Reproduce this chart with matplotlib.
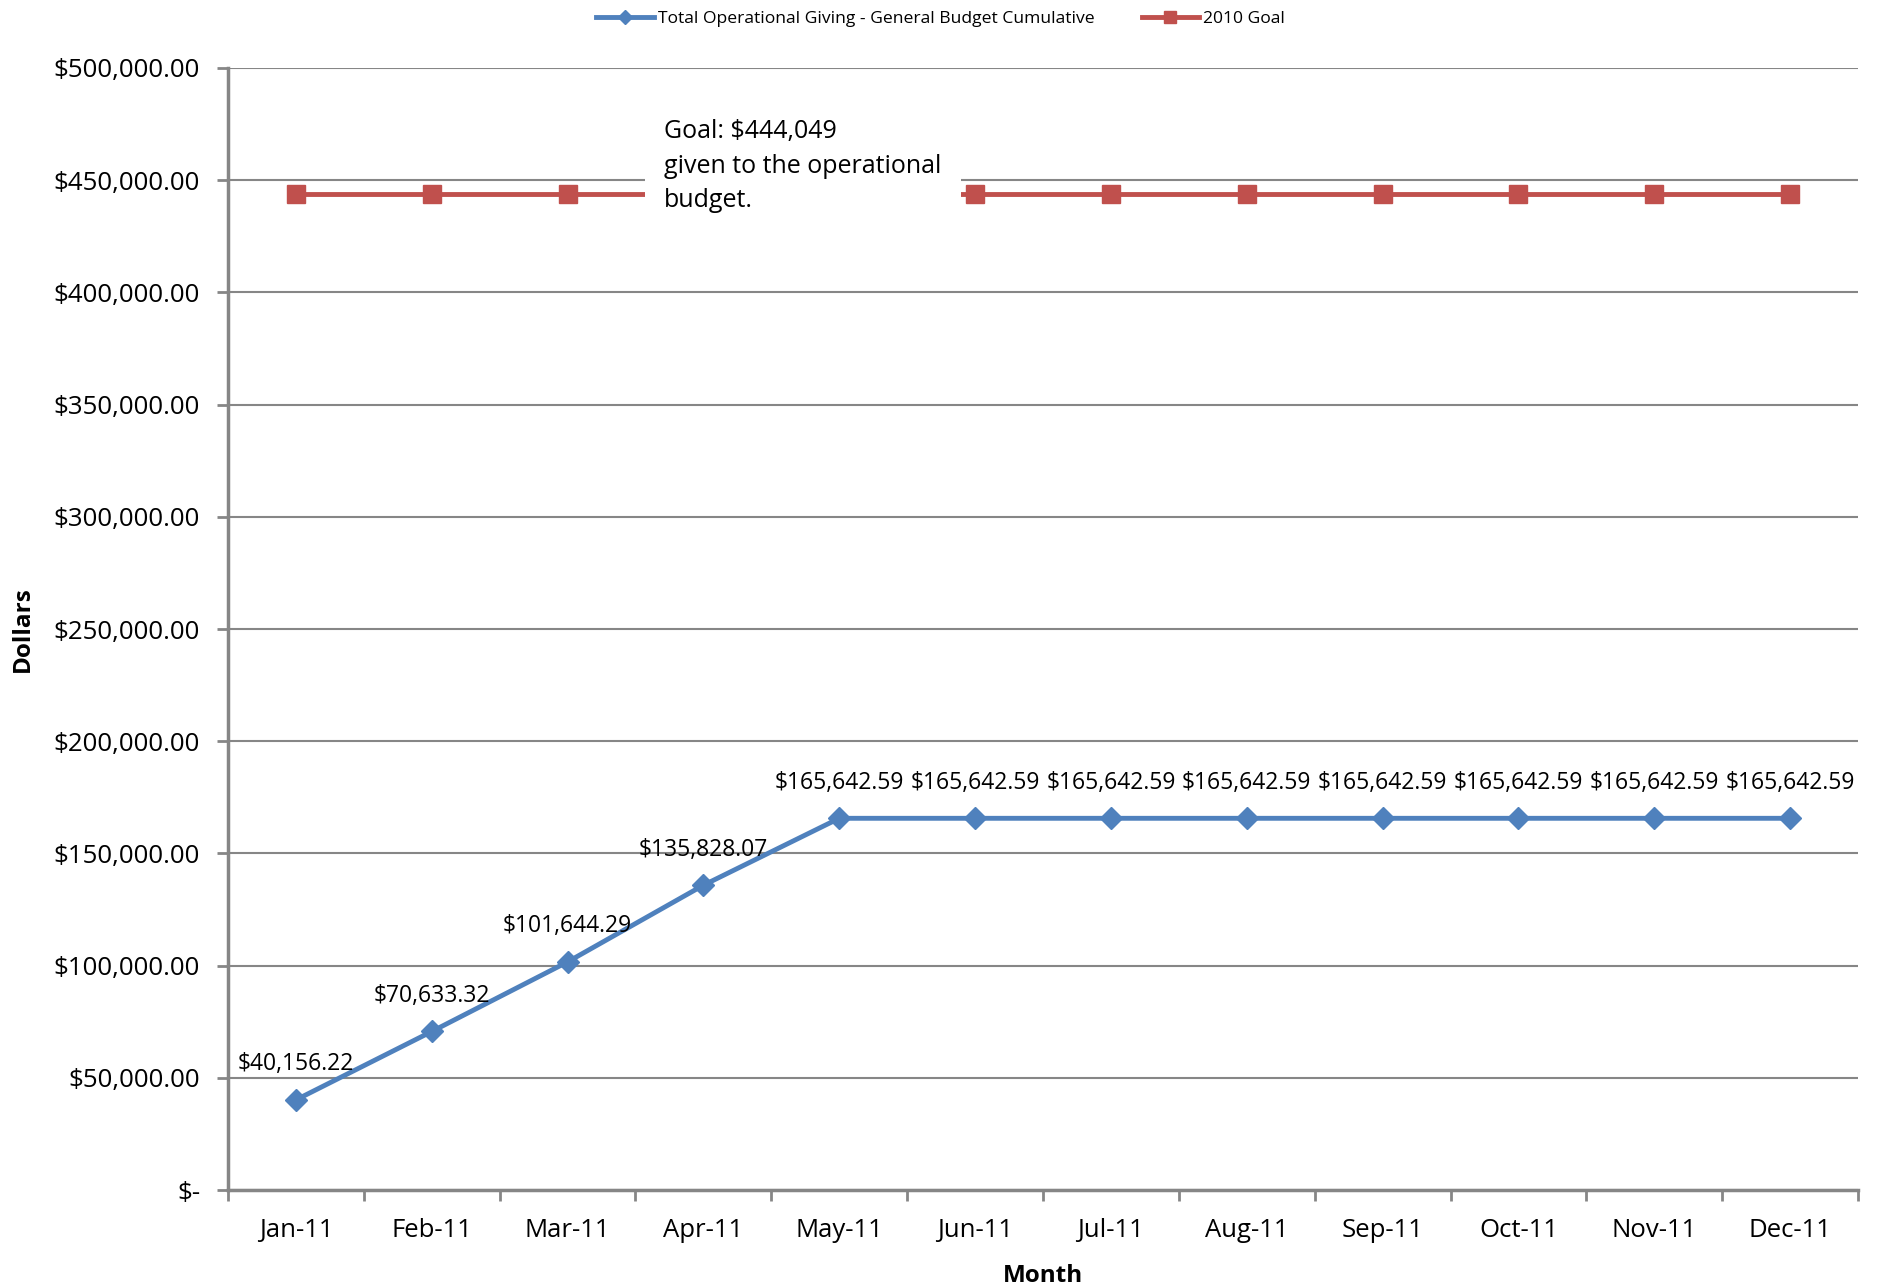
import matplotlib
matplotlib.use('Agg')
import matplotlib.pyplot as plt
from matplotlib.ticker import FuncFormatter

months = ['Jan-11', 'Feb-11', 'Mar-11', 'Apr-11', 'May-11', 'Jun-11',
          'Jul-11', 'Aug-11', 'Sep-11', 'Oct-11', 'Nov-11', 'Dec-11']
giving = [40156.22, 70633.32, 101644.29, 135828.07, 165642.59, 165642.59,
          165642.59, 165642.59, 165642.59, 165642.59, 165642.59, 165642.59]
goal = [444049] * 12
y_ticks = [0, 50000, 100000, 150000, 200000, 250000, 300000, 350000, 400000, 450000, 500000]

plt.rcParams['font.family'] = ['Open Sans', 'DejaVu Sans']
grey = '#868686'
blue = '#4F81BD'
red = '#C0504D'

fig = plt.figure(figsize=(18.81, 12.87), dpi=100)
ax = fig.add_axes([228 / 1881, 1 - 1190 / 1287, (1858 - 228) / 1881, (1190 - 68) / 1287])

x = list(range(len(months)))
ax.plot(x, giving, color=blue, lw=3.5, marker='D', ms=11, zorder=3,
        label='Total Operational Giving - General Budget Cumulative')
ax.plot(x, goal, color=red, lw=3.5, marker='s', ms=13, zorder=3, label='2010 Goal')

for i, v in enumerate(giving):
    ax.annotate('${:,.2f}'.format(v), (i, v), xytext=(0, 17), textcoords='offset points',
                ha='center', va='bottom', fontsize=16.5)

# note box covers the goal line in the middle
ax.text(2.71, 456300, 'Goal: $444,049\ngiven to the operational\nbudget.',
        fontsize=18, va='center', ha='left', linespacing=1.52, zorder=5,
        bbox=dict(facecolor='white', edgecolor='none', pad=14))

ax.set_xlim(-0.5, 11.5)
ax.set_ylim(0, 500000)
ax.set_yticks(y_ticks)
ax.yaxis.set_major_formatter(FuncFormatter(lambda v, p: '$-' if v == 0 else '${:,.2f}'.format(v)))
ax.set_xticks(x)
ax.set_xticklabels(months)
ax.set_xticks([i + 0.5 for i in range(-1, 12)], minor=True)
ax.tick_params(axis='x', which='major', length=0, pad=20, labelsize=18.5)
ax.tick_params(axis='x', which='minor', length=8, color=grey, width=2)
ax.tick_params(axis='y', length=8, color=grey, width=2, labelsize=18.6, pad=12)

ax.grid(axis='y', color=grey, lw=1.5)
ax.set_axisbelow(True)
for s in ['top', 'right']:
    ax.spines[s].set_visible(False)
for s in ['left', 'bottom']:
    ax.spines[s].set_color(grey)
    ax.spines[s].set_linewidth(2.5)

ax.set_ylabel('Dollars', fontsize=17.5, fontweight='bold', labelpad=14)
ax.set_xlabel('Month', fontsize=17.5, fontweight='bold', labelpad=15)

fig.legend(loc='upper center', bbox_to_anchor=(0.5, 1.004), ncol=2, frameon=False,
           fontsize=12.6, handlelength=3.3, handletextpad=0.2, columnspacing=2.7,
           markerscale=0.65)

fig.savefig('out.png', dpi=100)
